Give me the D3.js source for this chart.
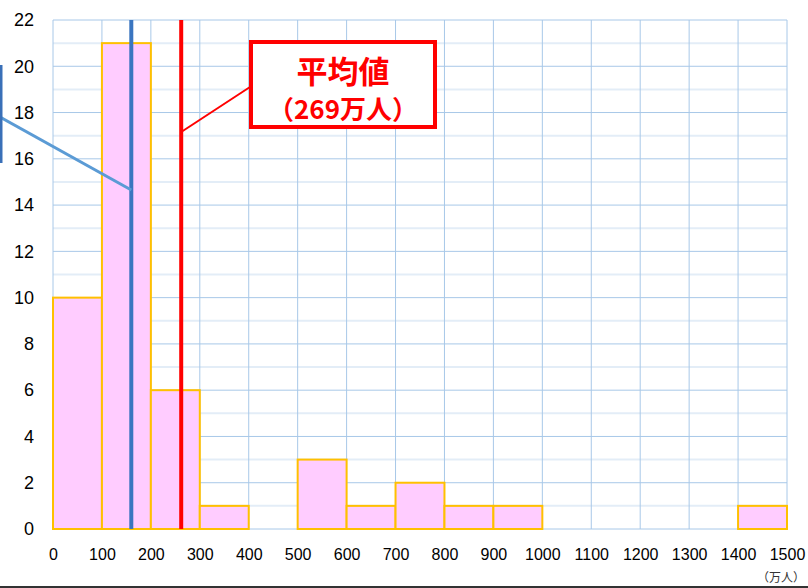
<!DOCTYPE html>
<html>
<head>
<meta charset="utf-8">
<script src="https://cdn.jsdelivr.net/npm/d3@7"></script>
<style>
  body { margin: 0; background: #fff; }
  svg { display: block; font-family: Calibri, Carlito, "Liberation Sans", "Noto Sans CJK JP", sans-serif; }
</style>
</head>
<body>
<svg id="chart" width="808" height="588"></svg>
<script>
// bins (万人) and counts
var binStarts = [0, 100, 200, 300, 400, 500, 600, 700, 800, 900, 1000, 1100, 1200, 1300, 1400];
var counts    = [10, 21, 6, 1, 0, 3, 1, 2, 1, 1, 0, 0, 0, 0, 1];
var binWidth = 100;
var xTicks = [0, 100, 200, 300, 400, 500, 600, 700, 800, 900, 1000, 1100, 1200, 1300, 1400, 1500];
var yTicks = [0, 2, 4, 6, 8, 10, 12, 14, 16, 18, 20, 22];
var medianPos = 160;   // blue line
var meanPos = 262;     // red line as drawn
var meanLabel = ["平均値", "（269万人）"];
var unitLabel = "（万人）";

var svg = d3.select("#chart");
var margin = {top: 20, right: 21, bottom: 59, left: 53};
var width = 808 - margin.left - margin.right,
    height = 588 - margin.top - margin.bottom;

var x = d3.scaleLinear().domain([0, 1500]).range([0, width]);
var y = d3.scaleLinear().domain([0, 22]).range([height, 0]);

var g = svg.append("g").attr("transform", "translate(" + margin.left + "," + margin.top + ")");

// minor grid (odd values)
g.selectAll(".minor").data(d3.range(1, 22, 2)).enter().append("line")
  .attr("x1", 0).attr("x2", width)
  .attr("y1", function(d) { return y(d); }).attr("y2", function(d) { return y(d); })
  .attr("stroke", "#e3edf7").attr("stroke-width", 2);

// major grid
g.selectAll(".hgrid").data(yTicks).enter().append("line")
  .attr("x1", 0).attr("x2", width)
  .attr("y1", function(d) { return y(d); }).attr("y2", function(d) { return y(d); })
  .attr("stroke", "#a8c8e8").attr("stroke-width", 1);
g.selectAll(".vgrid").data(xTicks).enter().append("line")
  .attr("y1", 0).attr("y2", height)
  .attr("x1", function(d) { return x(d); }).attr("x2", function(d) { return x(d); })
  .attr("stroke", "#a8c8e8").attr("stroke-width", 1);

// bars
g.selectAll(".bar").data(binStarts.filter(function(d, i) { return counts[i] > 0; })).enter().append("rect")
  .attr("x", function(d) { return x(d); })
  .attr("width", x(binWidth) - x(0))
  .attr("y", function(d) { return y(counts[binStarts.indexOf(d)]); })
  .attr("height", function(d) { return height - y(counts[binStarts.indexOf(d)]); })
  .attr("fill", "#ffccff").attr("stroke", "#ffc000").attr("stroke-width", 2);

// axes (labels only)
var xAxis = d3.axisBottom(x).tickValues(xTicks).tickFormat(d3.format("d")).tickSize(0).tickPadding(20);
var gx = g.append("g").attr("transform", "translate(0," + height + ")").call(xAxis);
gx.select(".domain").remove();
gx.selectAll("text").attr("font-size", 16).attr("font-family", "'Liberation Sans', sans-serif").attr("fill", "#000");

var yAxis = d3.axisLeft(y).tickValues(yTicks).tickSize(0).tickPadding(19);
var gy = g.append("g").call(yAxis);
gy.select(".domain").remove();
gy.selectAll("text").attr("font-size", 18).attr("font-family", "'Liberation Sans', sans-serif").attr("fill", "#000");

// median line + callout leader
g.append("line")
  .attr("x1", x(medianPos)).attr("x2", x(medianPos))
  .attr("y1", 0).attr("y2", height)
  .attr("stroke", "#3a75c0").attr("stroke-width", 4);
svg.append("line").attr("x1", 0).attr("y1", 117).attr("x2", margin.left + x(medianPos)).attr("y2", 190)
  .attr("stroke", "#5b9bd5").attr("stroke-width", 3);
svg.append("line").attr("x1", 1).attr("y1", 65).attr("x2", 1).attr("y2", 163)
  .attr("stroke", "#3a70b8").attr("stroke-width", 3);

// mean line + callout
g.append("line")
  .attr("x1", x(meanPos)).attr("x2", x(meanPos))
  .attr("y1", 0).attr("y2", height)
  .attr("stroke", "#ff0000").attr("stroke-width", 4);
svg.append("line").attr("x1", margin.left + x(meanPos)).attr("y1", 132).attr("x2", 250).attr("y2", 87)
  .attr("stroke", "#ff0000").attr("stroke-width", 2);
svg.append("rect").attr("x", 251).attr("y", 42).attr("width", 184).attr("height", 85)
  .attr("fill", "#fff").attr("stroke", "#ff0000").attr("stroke-width", 4);
svg.append("text").attr("x", 343).attr("y", 83).attr("text-anchor", "middle")
  .attr("font-family", "'Noto Sans CJK JP', sans-serif").attr("font-weight", "bold")
  .attr("font-size", 31).attr("fill", "#ff0000").text(meanLabel[0]);
svg.append("text").attr("x", 343).attr("y", 119).attr("text-anchor", "middle")
  .attr("font-family", "'Noto Sans CJK JP', sans-serif").attr("font-weight", "bold")
  .attr("font-size", 26).attr("fill", "#ff0000").text(meanLabel[1]);

// unit label
svg.append("text").attr("x", 805).attr("y", 582).attr("text-anchor", "end")
  .attr("font-family", "'Noto Sans CJK JP', sans-serif")
  .attr("font-size", 12).attr("fill", "#333").text(unitLabel);

// bottom rule
svg.append("line").attr("x1", 0).attr("x2", 808).attr("y1", 587).attr("y2", 587)
  .attr("stroke", "#333").attr("stroke-width", 2);
</script>
</body>
</html>
